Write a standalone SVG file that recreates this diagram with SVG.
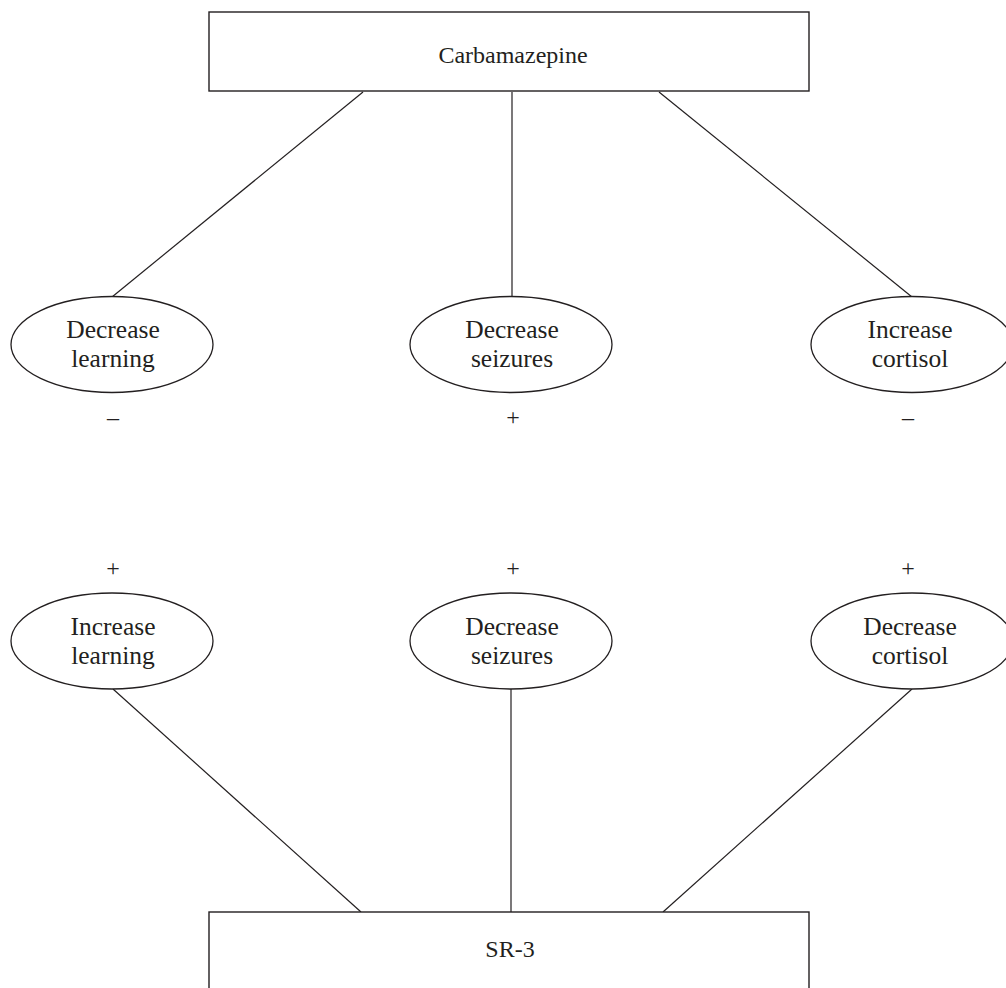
<svg xmlns="http://www.w3.org/2000/svg" width="1006" height="988" viewBox="0 0 1006 988">
<style>
.box{fill:#fff;stroke:#231f20;stroke-width:1.4}
.ell{fill:#fff;stroke:#231f20;stroke-width:1.3}
.con line{stroke:#231f20;stroke-width:1.2}
text{font-family:"Liberation Serif","Times New Roman",serif;font-size:24px;fill:#231f20;text-anchor:middle}
.e{font-size:25.5px}
</style>
<rect width="1006" height="988" fill="#fff"/>
<g class="con" id="connectors">
<line x1="363" y1="92" x2="112" y2="297"/>
<line x1="512" y1="92" x2="512" y2="296"/>
<line x1="659" y1="92" x2="912" y2="297"/>
<line x1="113" y1="689" x2="361" y2="912"/>
<line x1="511" y1="689" x2="511" y2="912"/>
<line x1="912" y1="689" x2="663" y2="912"/>
</g>
<g id="carbamazepine">
<rect class="box" x="209" y="12" width="600" height="79"/>
<text x="513" y="63">Carbamazepine</text>
</g>
<g id="sr3">
<rect class="box" x="209" y="912" width="600" height="90"/>
<text x="510" y="957">SR-3</text>
</g>
<g id="dec-learning">
<ellipse class="ell" cx="112" cy="344.5" rx="101" ry="48"/>
<text class="e" x="113" y="338">Decrease</text>
<text class="e" x="113" y="367">learning</text>
</g>
<g id="dec-seizures-1">
<ellipse class="ell" cx="511" cy="344.5" rx="101" ry="48"/>
<text class="e" x="512" y="338">Decrease</text>
<text class="e" x="512" y="367">seizures</text>
</g>
<g id="inc-cortisol">
<ellipse class="ell" cx="912" cy="344.5" rx="101" ry="48"/>
<text class="e" x="910" y="338">Increase</text>
<text class="e" x="910" y="367">cortisol</text>
</g>
<g id="inc-learning">
<ellipse class="ell" cx="112" cy="641" rx="101" ry="48"/>
<text class="e" x="113" y="635">Increase</text>
<text class="e" x="113" y="664">learning</text>
</g>
<g id="dec-seizures-2">
<ellipse class="ell" cx="511" cy="641" rx="101" ry="48"/>
<text class="e" x="512" y="635">Decrease</text>
<text class="e" x="512" y="664">seizures</text>
</g>
<g id="dec-cortisol">
<ellipse class="ell" cx="912" cy="641" rx="101" ry="48"/>
<text class="e" x="910" y="635">Decrease</text>
<text class="e" x="910" y="664">cortisol</text>
</g>
<g id="signs">
<text x="113" y="425">–</text>
<text x="513" y="425">+</text>
<text x="908" y="425">–</text>
<text x="113" y="576">+</text>
<text x="513" y="576">+</text>
<text x="908" y="576">+</text>
</g>
</svg>
